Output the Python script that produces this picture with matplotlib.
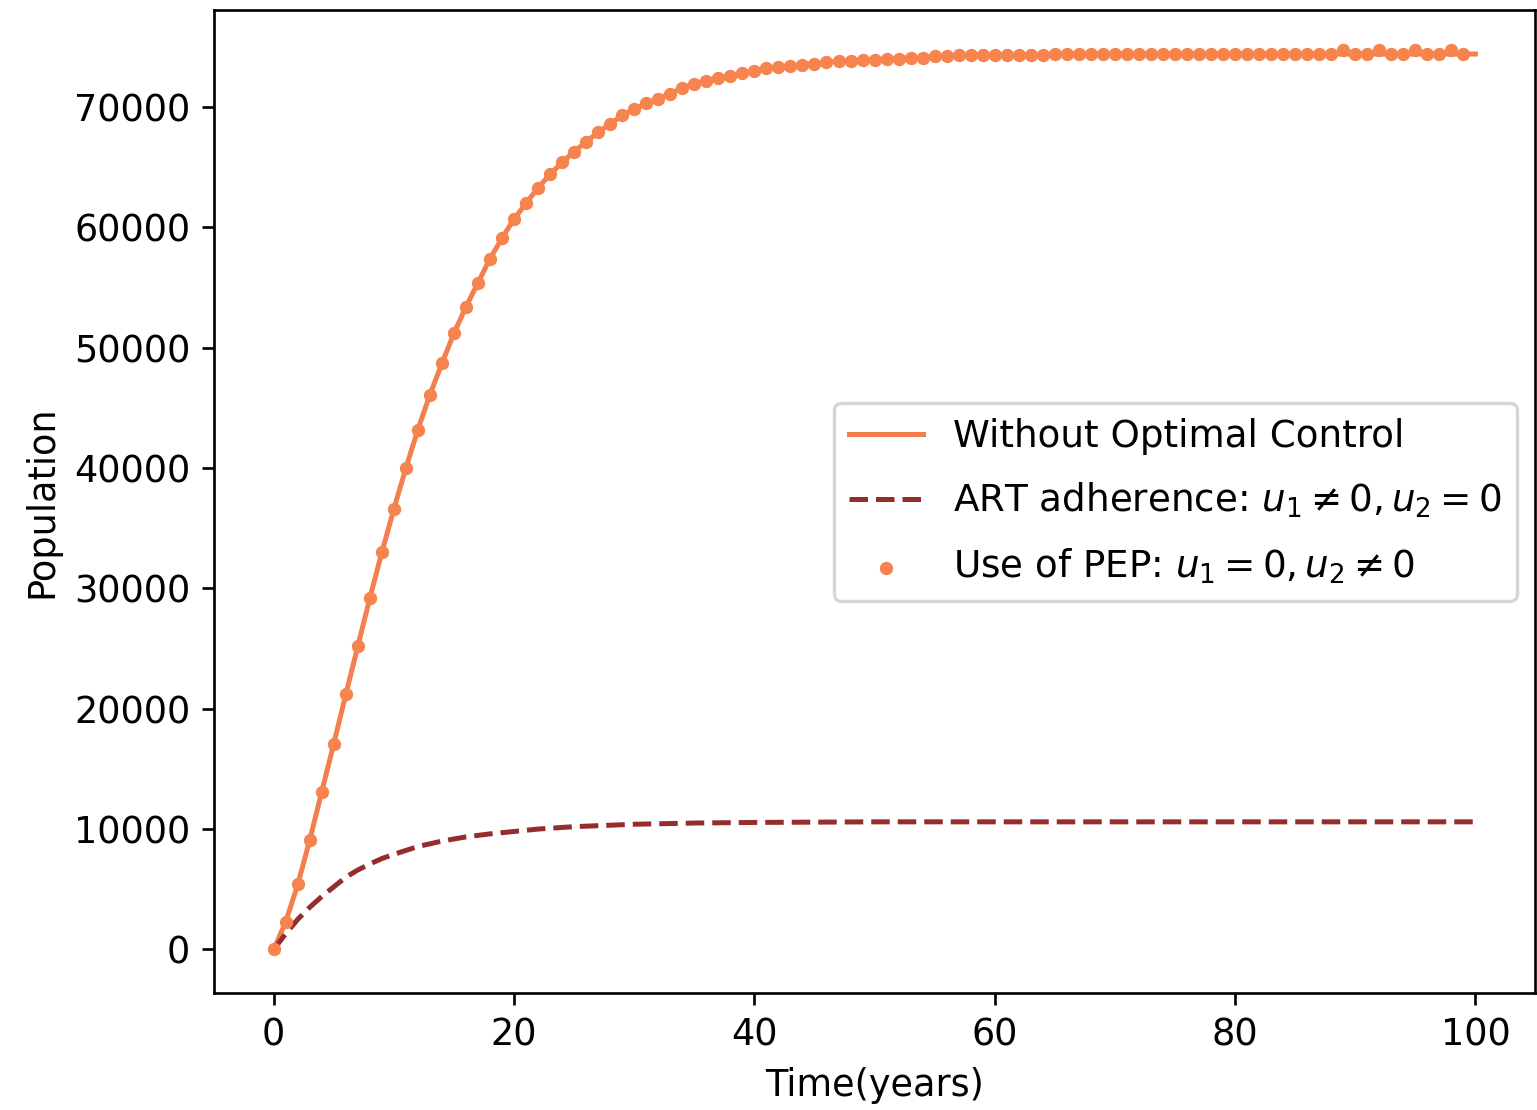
import matplotlib

matplotlib.use("Agg")
import matplotlib.pyplot as plt
import numpy as np

# Without optimal control (yearly values, t = 0..100)
years = np.arange(0, 101)
without_control = [
    0, 2300, 5400, 9100, 13100, 17100, 21200, 25200, 29200, 33000,
    36600, 40000, 43200, 46100, 48700, 51200, 53400, 55400, 57400, 59100,
    60700, 62000, 63300, 64400, 65400, 66300, 67100, 67900, 68600, 69300,
    69800, 70300, 70700, 71100, 71600, 71900, 72200, 72400, 72600, 72800,
    73000, 73200, 73300, 73400, 73500, 73600, 73700, 73800, 73800, 73900,
    73900, 74000, 74000, 74100, 74100, 74200, 74200, 74300, 74300, 74300,
    74300, 74300, 74300, 74300, 74300, 74400, 74400, 74400, 74400, 74400,
    74400, 74400, 74400, 74400, 74400, 74400, 74400, 74400, 74400, 74400,
    74400, 74400, 74400, 74400, 74400, 74400, 74400, 74400, 74400, 74400,
    74400, 74400, 74400, 74400, 74400, 74400, 74400, 74400, 74400, 74400,
    74400,
]

# Use of PEP (dots, t = 0..99)
pep_years = np.arange(0, 100)
pep = [
    0, 2300, 5400, 9100, 13100, 17100, 21200, 25200, 29200, 33000,
    36600, 40000, 43200, 46100, 48700, 51200, 53400, 55400, 57400, 59100,
    60700, 62000, 63300, 64400, 65400, 66300, 67100, 67900, 68600, 69300,
    69800, 70300, 70700, 71100, 71600, 71900, 72200, 72400, 72600, 72800,
    73000, 73200, 73300, 73400, 73500, 73600, 73700, 73800, 73800, 73900,
    73900, 74000, 74000, 74100, 74100, 74200, 74200, 74300, 74300, 74300,
    74300, 74300, 74300, 74300, 74300, 74400, 74400, 74400, 74400, 74400,
    74400, 74400, 74400, 74400, 74400, 74400, 74400, 74400, 74400, 74400,
    74400, 74400, 74400, 74400, 74400, 74400, 74400, 74400, 74400, 74750,
    74400, 74400, 74750, 74400, 74400, 74750, 74400, 74400, 74750, 74400,
]

# ART adherence
art_years = [0, 1, 2, 3, 4, 5, 6, 7, 8, 9, 10, 12, 14, 16, 18, 20, 22, 25,
             30, 35, 40, 50, 60, 70, 80, 90, 100]
art = [0, 1300, 2500, 3500, 4400, 5200, 6000, 6600, 7100, 7550, 7900, 8550,
       9000, 9350, 9600, 9800, 10000, 10200, 10400, 10500, 10550, 10600,
       10600, 10600, 10600, 10600, 10600]

plt.rcParams["font.size"] = 11

fig = plt.figure(figsize=(1537 / 240, 1110 / 240), dpi=240)
ax = fig.add_axes([0.139, 0.105, 0.86, 0.886])

ax.plot(years, without_control, color="#F47F4E", linewidth=1.5,
        label="Without Optimal Control")
ax.plot(art_years, art, color="#962D2D", linestyle="--", linewidth=1.5,
        label=r"ART adherence: $u_1 \neq 0, u_2 = 0$")
ax.scatter(pep_years, pep, color="#F7834F", s=9, zorder=3,
           label=r"Use of PEP: $u_1 = 0, u_2 \neq 0$")

ax.set_ylim(-3660, 78060)
ax.set_xlabel("Time(years)")
ax.set_ylabel("Population")
ax.legend(loc="center right", fontsize=11.2, labelspacing=0.7)

fig.savefig("out.png", dpi=240)
